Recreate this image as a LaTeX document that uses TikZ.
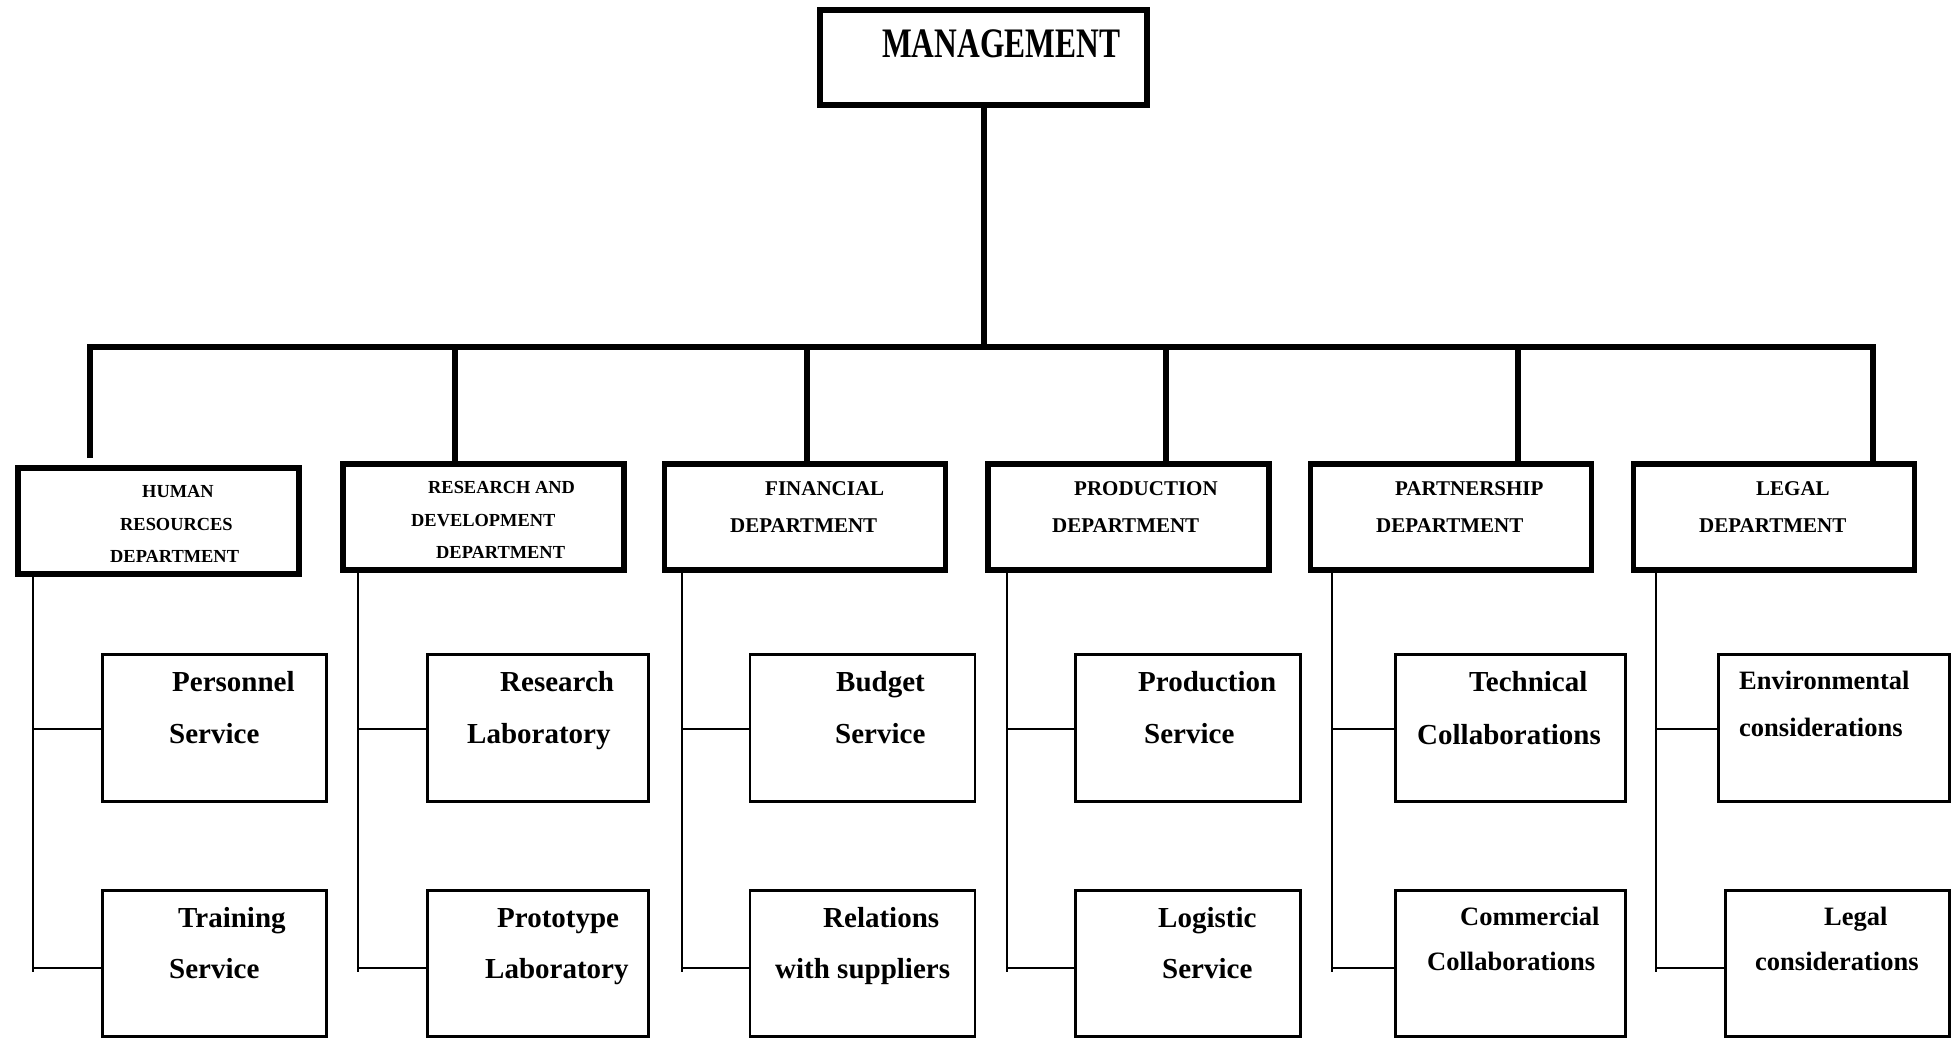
\documentclass[tikz,border=0pt]{standalone}
\usepackage{graphicx}
\usepackage{fontspec}
\setmainfont{Liberation Serif}
\begin{document}
\begin{tikzpicture}[x=1pt,y=-1pt,
  mgmtbox/.style={draw,line width=6pt,minimum width=327pt,minimum height=95pt,inner sep=0pt},
  deptbox/.style={draw,line width=5.5pt,minimum width=281pt,minimum height=106pt,inner sep=0pt},
  subbox/.style={draw,line width=2.8pt,minimum height=147pt,inner sep=0pt},
  lowbox/.style={subbox,minimum height=146pt},
  thickline/.style={line width=6pt,line join=miter},
  thinline/.style={line width=2.8pt},
  txt/.style={anchor=base west,inner sep=0pt,font=\bfseries\fontsize{29}{29}\selectfont},
  smalltxt/.style={anchor=base west,inner sep=0pt,font=\bfseries\fontsize{26.5}{26.5}\selectfont},
  depttxt/.style={anchor=base west,inner sep=0pt,font=\bfseries\fontsize{21}{21}\selectfont},
  deptsmall/.style={anchor=base west,inner sep=0pt,font=\bfseries\fontsize{18.4}{18.4}\selectfont},
  mgtxt/.style={anchor=base west,inner sep=0pt,font=\bfseries\fontsize{42}{42}\selectfont},
]
\useasboundingbox[fill=white] (0,0) rectangle (1957,1038);

% Management
\node[mgmtbox] (mg) at (983.5,57.5) {};
\node[mgtxt] (mgt) at (882,58) {\scalebox{0.75}[1]{MANAGEMENT}};

% Departments
\node[deptbox] (hr) at (158.5,521) {};
\node[deptbox] (rd) at (483.5,517) {};
\node[deptbox] (fi) at (805,517) {};
\node[deptbox] (pr) at (1128.5,517) {};
\node[deptbox] (pa) at (1451,517) {};
\node[deptbox] (lg) at (1774,517) {};

\node[deptsmall] (hrt1) at (142,497) {HUMAN};
\node[deptsmall] (hrt2) at (120,530) {RESOURCES};
\node[deptsmall] (hrt3) at (110,562) {DEPARTMENT};
\node[deptsmall] (rdt1) at (428,493) {RESEARCH AND};
\node[deptsmall] (rdt2) at (411,526) {DEVELOPMENT};
\node[deptsmall] (rdt3) at (436,558) {DEPARTMENT};
\node[depttxt] (fit1) at (765,495) {FINANCIAL};
\node[depttxt] (fit2) at (730,532) {DEPARTMENT};
\node[depttxt] (prt1) at (1074,495) {PRODUCTION};
\node[depttxt] (prt2) at (1052,532) {DEPARTMENT};
\node[depttxt] (pat1) at (1395,495) {PARTNERSHIP};
\node[depttxt] (pat2) at (1376,532) {DEPARTMENT};
\node[depttxt] (lgt1) at (1756,495) {LEGAL};
\node[depttxt] (lgt2) at (1699,532) {DEPARTMENT};

% Services
\node[subbox,minimum width=224pt] (Ahr) at (214.5,728) {};
\node[lowbox,minimum width=224pt] (Bhr) at (214.5,963.5) {};
\node[subbox,minimum width=221pt] (Ard) at (538,728) {};
\node[lowbox,minimum width=221pt] (Brd) at (538,963.5) {};
\node[subbox,minimum width=225pt] (Afi) at (862.5,728) {};
\node[lowbox,minimum width=225pt] (Bfi) at (862.5,963.5) {};
\node[subbox,minimum width=225pt] (Apr) at (1188,728) {};
\node[lowbox,minimum width=225pt] (Bpr) at (1188,963.5) {};
\node[subbox,minimum width=230pt] (Apa) at (1510.5,728) {};
\node[lowbox,minimum width=230pt] (Bpa) at (1510.5,963.5) {};
\node[subbox,minimum width=231pt] (Alg) at (1834,728) {};
\node[lowbox,minimum width=224pt] (Blg) at (1837.5,963.5) {};

\node[txt] (a1) at (172,691) {Personnel};
\node[txt] (a2) at (169,743) {Service};
\node[txt] (a3) at (178,927) {Training};
\node[txt] (a4) at (169,978) {Service};
\node[txt] (b1) at (500,691) {Research};
\node[txt] (b2) at (467,743) {Laboratory};
\node[txt] (b3) at (497,927) {Prototype};
\node[txt] (b4) at (485,978) {Laboratory};
\node[txt] (c1) at (836,691) {Budget};
\node[txt] (c2) at (835,743) {Service};
\node[txt] (c3) at (823,927) {Relations};
\node[txt] (c4) at (775,978) {with suppliers};
\node[txt] (d1) at (1138,691) {Production};
\node[txt] (d2) at (1144,743) {Service};
\node[txt] (d3) at (1158,927) {Logistic};
\node[txt] (d4) at (1162,978) {Service};
\node[txt] (e1) at (1469,691) {Technical};
\node[txt] (e2) at (1417,744) {Collaborations};
\node[smalltxt] (e3) at (1460,925) {Commercial};
\node[smalltxt] (e4) at (1427,970) {Collaborations};
\node[smalltxt] (f1) at (1739,689) {Environmental};
\node[smalltxt] (f2) at (1739,736) {considerations};
\node[smalltxt] (f3) at (1824,925) {Legal};
\node[smalltxt] (f4) at (1755,970) {considerations};

% Top connectors
\coordinate (dhr) at (90,458);
\coordinate (dlg) at (1873,347);
\coordinate (drd) at (455,347);
\coordinate (dfi) at (807,347);
\coordinate (dpr) at (1166,347);
\coordinate (dpa) at (1518,347);
\draw[thickline] (dhr) |- (dlg) -- (dlg |- lg.north);
\draw[thickline] (mg.south) -- (mg.south |- dlg);
\draw[thickline] (drd) -- (drd |- rd.north);
\draw[thickline] (dfi) -- (dfi |- fi.north);
\draw[thickline] (dpr) -- (dpr |- pr.north);
\draw[thickline] (dpa) -- (dpa |- pa.north);

% Spines and branches
\coordinate (shr) at (33,972);
\coordinate (srd) at (358,972);
\coordinate (sfi) at (682,972);
\coordinate (spr) at (1007,972);
\coordinate (spa) at (1332,972);
\coordinate (slg) at (1656,972);
\foreach \d in {hr,rd,fi,pr,pa,lg}{
  \draw[thinline] (s\d |- \d.south) -- (s\d);
}
\coordinate (bhr1) at (33,729);   \coordinate (bhr2) at (33,968);
\coordinate (brd1) at (358,729);  \coordinate (brd2) at (358,968);
\coordinate (bfi1) at (682,729);  \coordinate (bfi2) at (682,968);
\coordinate (bpr1) at (1007,729); \coordinate (bpr2) at (1007,968);
\coordinate (bpa1) at (1332,729); \coordinate (bpa2) at (1332,968);
\coordinate (blg1) at (1656,729); \coordinate (blg2) at (1656,968);
\foreach \d in {hr,rd,fi,pr,pa,lg}{
  \draw[thinline] (b\d1) -- (b\d1 -| A\d.west);
  \draw[thinline] (b\d2) -- (b\d2 -| B\d.west);
}
\end{tikzpicture}
\end{document}
